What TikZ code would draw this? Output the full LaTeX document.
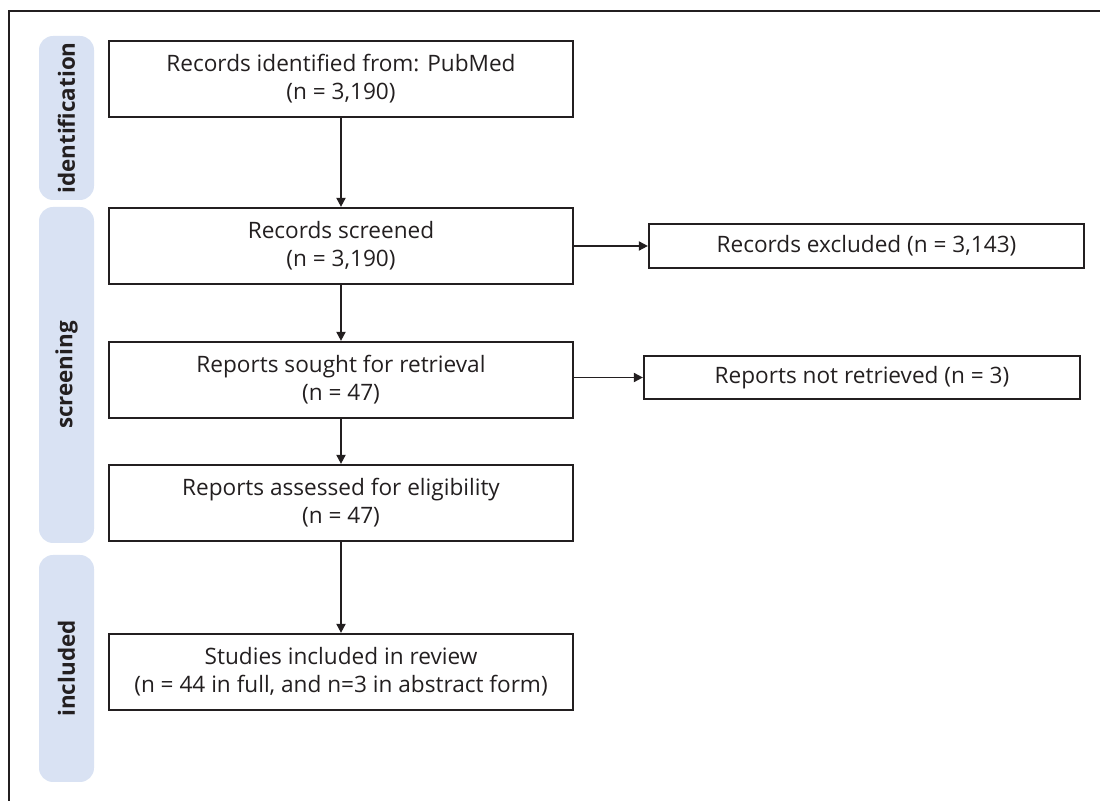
\documentclass[tikz,border=0pt]{standalone}
\usepackage{fontspec}
\setmainfont{Open Sans}
\usetikzlibrary{arrows.meta}
\definecolor{stagebg}{HTML}{D9E2F3}
\definecolor{ink}{HTML}{231F20}

\begin{document}
\begin{tikzpicture}[x=0.5pt,y=-0.5pt]

\def\bw{232pt}
\tikzstyle{box} = [
	draw=ink, line width=1.1pt, rectangle, align=center, inner sep=0pt,
	text=ink, font=\fontsize{11.3}{14}\selectfont,
	minimum width=\bw, minimum height=38pt ];
\tikzstyle{side} = [box, minimum height=22pt];
\tikzstyle{stage} = [
	fill=stagebg, rounded corners=7pt, rotate=90, inner sep=0pt,
	text=ink, font=\bfseries\fontsize{11.2}{12}\selectfont,
	minimum height=27.5pt ];
\tikzstyle{flow} = [draw=ink, line width=0.9pt, -{Triangle[length=4.5pt,width=4.5pt]}];
\useasboundingbox (0,0) rectangle (1100,801);
\draw[ink, line width=0.8pt] (1100,11) -- (9,11) -- (9,801);

\node[stage,minimum width=82pt] (s1) at (66.5,118) {identification};
\node[stage,minimum width=168pt] (s2) at (66.5,375) {screening};
\node[stage,minimum width=113.5pt] (s3) at (66.5,668.5) {included};

\node[box] (b1) at (341,79) {Records identified from: PubMed\\(n = 3,190)};
\node[box] (b2) at (341,246) {Records screened\\(n = 3,190)};
\node[box] (b3) at (341,380) {Reports sought for retrieval\\(n = 47)};
\node[box] (b4) at (341,503) {Reports assessed for eligibility\\(n = 47)};
\node[box] (b5) at (341,672) {Studies included in review\\(n = 44 in full, and n=3 in abstract form)};

\node[side,minimum width=217.5pt] (ex) at (866.5,246) {Records excluded (n = 3,143)};
\node[side,minimum width=218pt,minimum height=21.5pt] (nr) at (862,377.5) {Reports not retrieved (n = 3)};

\draw[flow] (b1) -- (b2);
\draw[flow] (b2) -- (b3);
\draw[flow] (b3) -- (b4);
\draw[flow] (b4) -- (b5);
\draw[flow] (b2) -- (ex);
\draw[flow] (b3.east |- nr.west) -- (nr.west);

\end{tikzpicture}
\end{document}
